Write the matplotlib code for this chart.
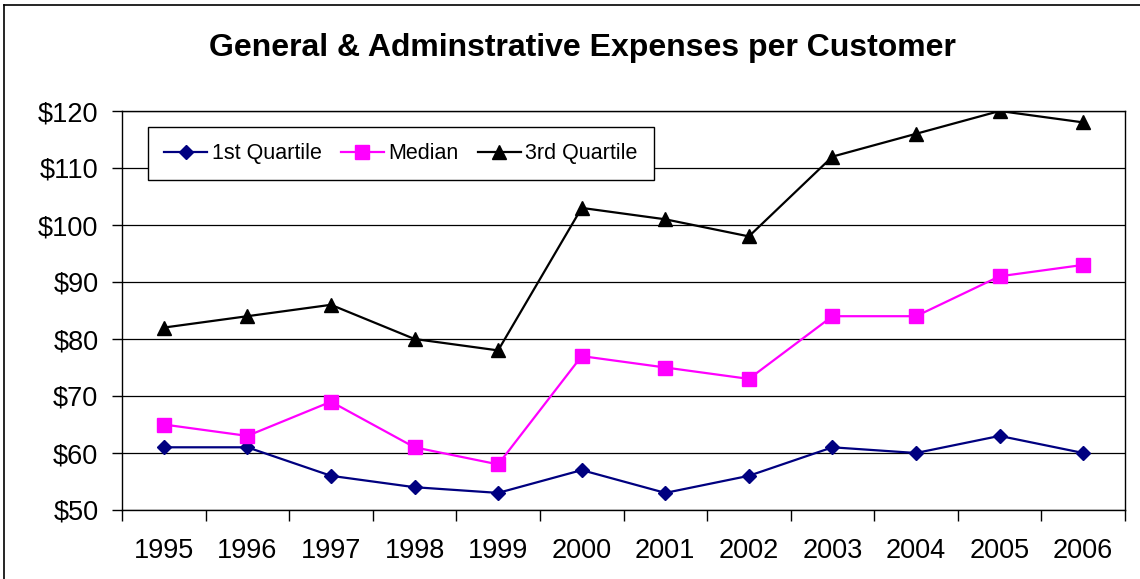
import numpy as np
import matplotlib.pyplot as plt
from matplotlib.lines import Line2D

plt.rcParams['font.family'] = ['Liberation Sans', 'DejaVu Sans']

years = ['1995', '1996', '1997', '1998', '1999', '2000',
         '2001', '2002', '2003', '2004', '2005', '2006']
q1 = [61, 61, 56, 54, 53, 57, 53, 56, 61, 60, 63, 60]
median = [65, 63, 69, 61, 58, 77, 75, 73, 84, 84, 91, 93]
q3 = [82, 84, 86, 80, 78, 103, 101, 98, 112, 116, 120, 118]
yticks = [50, 60, 70, 80, 90, 100, 110, 120]

fig = plt.figure(figsize=(11.4, 5.79), dpi=100)
ax = fig.add_axes([122/1140, 1 - 510/579, 1003/1140, 399/579])

x = np.arange(len(years))
ax.plot(x, q1, color='#000080', marker='D', markersize=7.5, lw=1.6, label='1st Quartile')
ax.plot(x, median, color='#FF00FF', marker='s', markersize=10, lw=1.6, label='Median')
ax.plot(x, q3, color='black', marker='^', markersize=10, lw=1.6, label='3rd Quartile')

ax.set_xlim(-0.5, len(years) - 0.5)
ax.set_ylim(50, 120)
ax.set_yticks(yticks)
ax.set_yticklabels(['$%d' % v for v in yticks])
ax.set_xticks(x)
ax.set_xticklabels(years)
ax.set_xticks(np.arange(-0.5, len(years)), minor=True)
ax.tick_params(axis='x', which='major', length=0, pad=20, labelsize=19.5)
ax.tick_params(axis='x', which='minor', length=8, width=1, direction='out')
ax.tick_params(axis='y', length=7, width=1, direction='out', pad=10, labelsize=19.5)
ax.grid(axis='y', color='black', lw=0.9)
ax.set_axisbelow(True)
for s in ax.spines.values():
    s.set_color('black')
    s.set_linewidth(1)

leg = ax.legend(loc='upper left', bbox_to_anchor=(0.026, 0.96), borderaxespad=0,
                ncol=3, fontsize=15.5, frameon=True, fancybox=False, edgecolor='black',
                framealpha=1, handlelength=2.0, handletextpad=0.2, columnspacing=0.9,
                borderpad=0.75)
leg.get_frame().set_linewidth(1)

fig.text(0.511, 1 - 48/579, 'General & Adminstrative Expenses per Customer',
         ha='center', va='center', fontsize=23, fontweight='bold')

fig.add_artist(Line2D([4/1140, 4/1140], [0, 1 - 5/579], transform=fig.transFigure,
                      color='black', lw=1.2))
fig.add_artist(Line2D([4/1140, 1], [1 - 5/579, 1 - 5/579], transform=fig.transFigure,
                      color='black', lw=1.2))

fig.savefig('out.png', dpi=100)
